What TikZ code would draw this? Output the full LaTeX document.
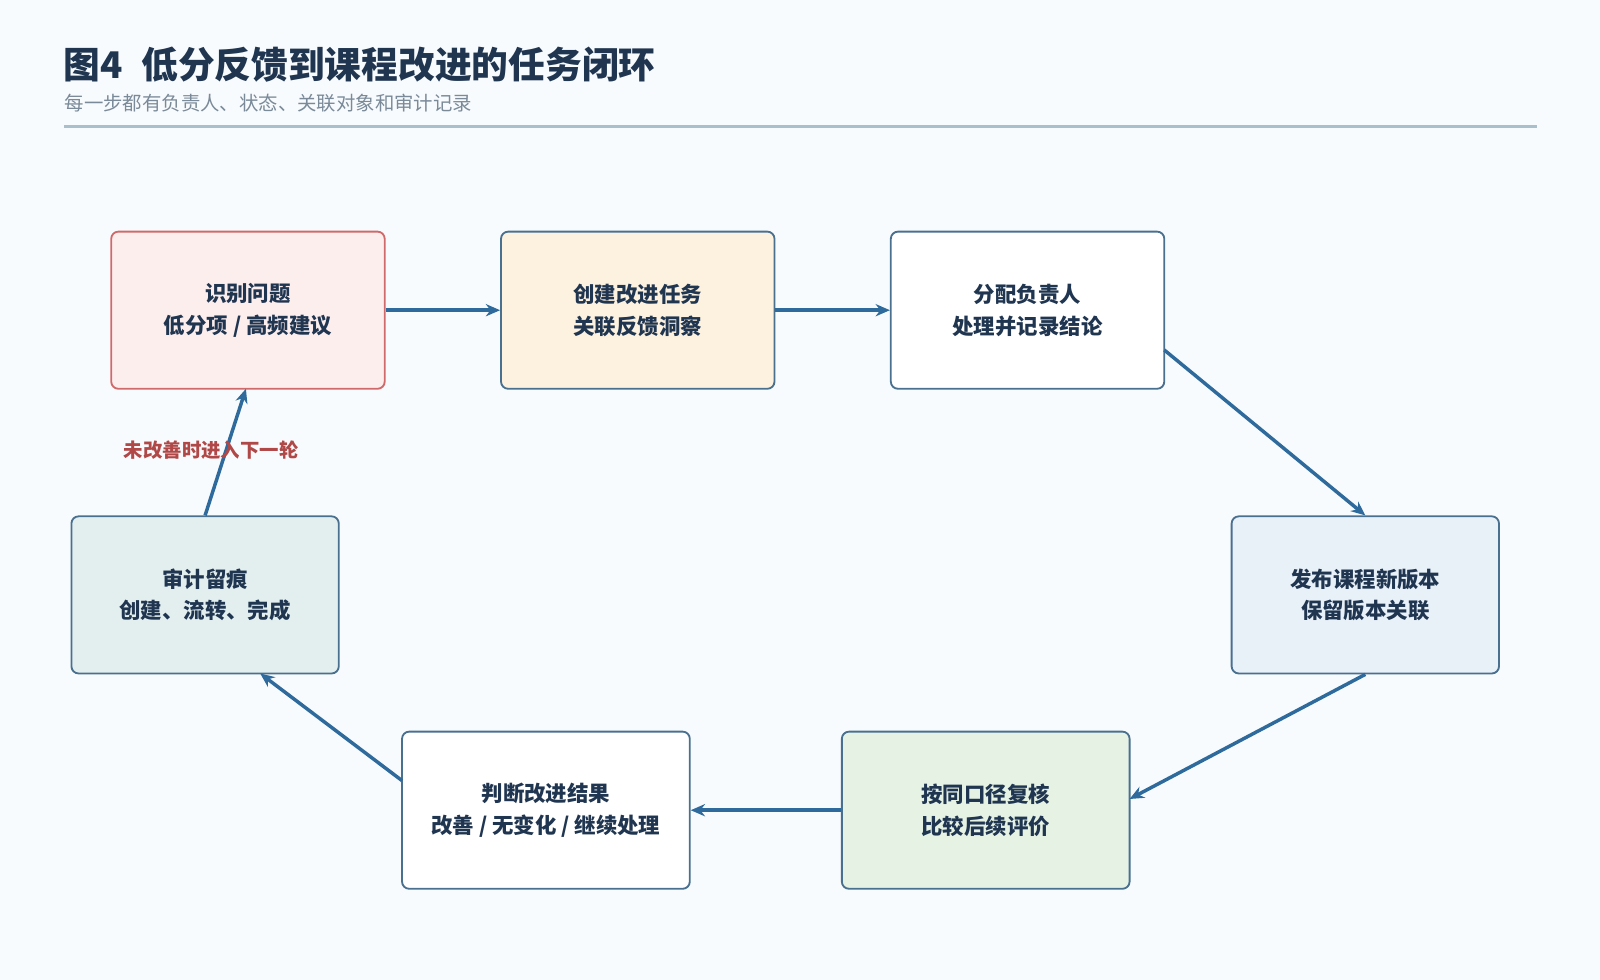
\documentclass[tikz,border=0pt]{standalone}
\usepackage{fontspec}
\setmainfont{Noto Sans CJK SC}
\usetikzlibrary{arrows.meta}
\definecolor{bg}{HTML}{F8FBFD}
\definecolor{ink}{HTML}{1F3550}
\definecolor{edge}{HTML}{4A7090}
\definecolor{arr}{HTML}{2E6A9C}
\definecolor{redb}{HTML}{D06A6A}
\definecolor{labred}{HTML}{B04848}
\definecolor{fa}{HTML}{FDEEEE}
\definecolor{fb}{HTML}{FDF1DF}
\definecolor{fd}{HTML}{E8F0F8}
\definecolor{fe}{HTML}{E6F2E4}
\definecolor{fg}{HTML}{E3EFEF}
\definecolor{rule}{HTML}{A9BFCC}
\definecolor{subc}{HTML}{7A8A99}
\begin{document}
\begin{tikzpicture}[x=1pt,y=-1pt,
 box/.style={draw=edge,line width=1.8pt,rounded corners=7pt,minimum height=154pt,align=center,font=\bfseries\fontsize{21}{31}\selectfont,text=ink},
 ar/.style={draw=arr,line width=3.4pt,-{Stealth[length=14pt,width=12pt]}}]
\fill[bg] (0,0) rectangle (1568,960);
\useasboundingbox (0,0) rectangle (1568,960);
\node[anchor=west,font=\bfseries\fontsize{36}{42}\selectfont,text=ink] (title) at (59,63) {图4\hspace{18pt}低分反馈到课程改进的任务闭环};
\node[anchor=west,font=\fontsize{19}{22}\selectfont,text=subc] (sub) at (60,101) {每一步都有负责人、状态、关联对象和审计记录};
\draw[color=rule,line width=2.4pt] (63,124) -- (1506,124);
\node[box,draw=redb,fill=fa,minimum width=268pt] (a) at (243,304) {识别问题\\低分项 / 高频建议};
\node[box,fill=fb,minimum width=268pt] (b) at (625,304) {创建改进任务\\关联反馈洞察};
\node[box,fill=white,minimum width=268pt] (c) at (1007,304) {分配负责人\\处理并记录结论};
\node[box,fill=fd,minimum width=262pt] (d) at (1338,583) {发布课程新版本\\保留版本关联};
\node[box,fill=fe,minimum width=282pt] (e) at (966,794) {按同口径复核\\比较后续评价};
\node[box,fill=white,minimum width=282pt] (f) at (535,794) {判断改进结果\\改善 / 无变化 / 继续处理};
\node[box,fill=fg,minimum width=262pt] (g) at (201,583) {审计留痕\\创建、流转、完成};
\draw[ar] (a.east) -- (b.west);
\draw[ar] (b.east) -- (c.west);
\draw[ar] (1141,343) -- (d.north);
\draw[ar] (d.south) -- (1107,783);
\draw[ar] (e.west) -- (f.east);
\draw[ar] (394,765) -- (255,660);
\draw[ar] (g.north) -- (241,381);
\node[font=\bfseries\fontsize{19}{22}\selectfont,text=labred] (lab) at (207,441) {未改善时进入下一轮};
\end{tikzpicture}
\end{document}
